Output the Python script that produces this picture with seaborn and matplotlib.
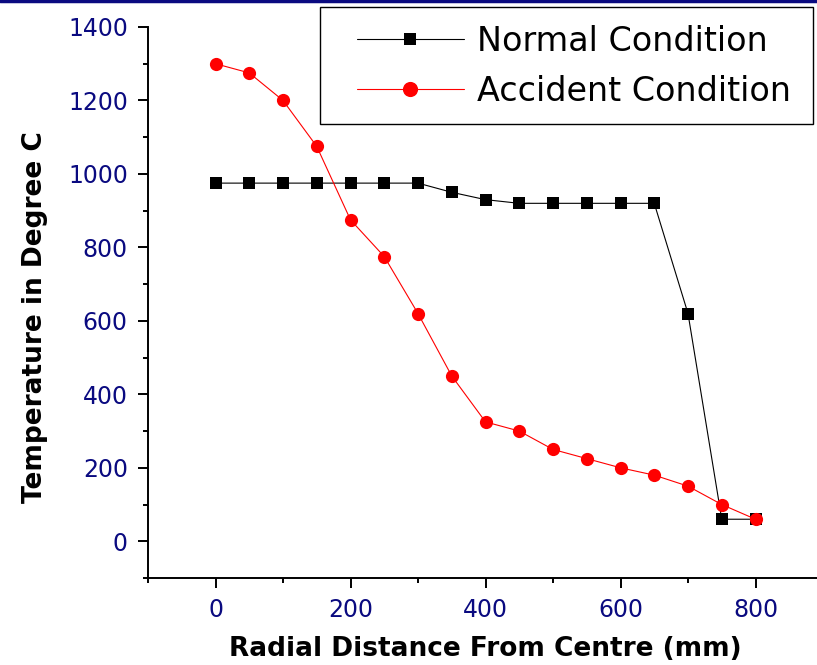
import matplotlib
matplotlib.use("Agg")
import matplotlib.pyplot as plt
from matplotlib.lines import Line2D
from matplotlib.patches import Rectangle
from matplotlib.ticker import MultipleLocator
import seaborn as sns
import pandas as pd

distance = [0, 50, 100, 150, 200, 250, 300, 350, 400, 450, 500, 550, 600, 650, 700, 750, 800]
normal = [975, 975, 975, 975, 975, 975, 975, 950, 930, 920, 920, 920, 920, 920, 620, 60, 60]
accident = [1300, 1275, 1200, 1075, 875, 775, 620, 450, 325, 300, 250, 225, 200, 180, 150, 100, 60]
series_names = ["Normal Condition", "Accident Condition"]

df = pd.concat([
    pd.DataFrame({"x": distance, "y": normal, "s": series_names[0]}),
    pd.DataFrame({"x": distance, "y": accident, "s": series_names[1]}),
])

sns.set_style("ticks")
plt.rcParams["font.family"] = ["DejaVu Sans"]

W, H = 817, 665
fig = plt.figure(figsize=(W/100, H/100), dpi=100)
ax = fig.add_axes([148/W, 1-578/H, (823-148)/W, (578-27)/H])

sns.lineplot(data=df, x="x", y="y", hue="s", style="s",
             palette={series_names[0]: "black", series_names[1]: "#ff0000"},
             markers={series_names[0]: "s", series_names[1]: "o"},
             dashes=False, linewidth=0.8, markeredgewidth=0, legend=False, ax=ax)
for ln, ms in zip(ax.lines, [8, 9.5]):
    ln.set_markersize(ms)

ax.set_xlim(-100, 900)
ax.set_ylim(-100, 1400)
ax.xaxis.set_minor_locator(MultipleLocator(100))
ax.yaxis.set_minor_locator(MultipleLocator(100))
ax.set_xticks([0, 200, 400, 600, 800])
ax.set_yticks([0, 200, 400, 600, 800, 1000, 1200, 1400])

for s in ["top", "right"]:
    ax.spines[s].set_visible(False)
for s in ["left", "bottom"]:
    ax.spines[s].set_linewidth(1.4)
    ax.spines[s].set_color("black")

ax.tick_params(which="major", direction="out", length=7.5, width=1.4, colors="black",
               labelsize=17, labelcolor="#0a0a80", pad=7)
ax.tick_params(which="minor", direction="out", length=3.5, width=1.4, colors="black")

ax.set_xlabel("Radial Distance From Centre (mm)", fontsize=19, fontweight="bold",
              color="black", labelpad=10)
ax.set_ylabel("Temperature in Degree C", fontsize=19, fontweight="bold", color="black")
ax.yaxis.set_label_coords((48 - 148) / (823 - 148), (578 - 317) / (578 - 27))

# legend frame drawn as a rectangle in figure coords, legend content without frame
ax.add_patch(Rectangle((320/W, 1-124/H), (813-320)/W, (124-7)/H,
                       transform=fig.transFigure, fill=True, facecolor="white",
                       edgecolor="black", linewidth=1.0, zorder=4, clip_on=False))
leg = ax.legend(ax.lines[:2], series_names, loc="upper left",
                bbox_to_anchor=(357/W, 1-25/H), bbox_transform=fig.transFigure,
                fontsize=24, frameon=False, handlelength=3.2, borderpad=0,
                labelspacing=0.5, handletextpad=0.4, borderaxespad=0,
                markerscale=1.15)
leg.set_zorder(6)
for t in leg.get_texts():
    t.set_color("black")

fig.add_artist(Line2D([0, 1], [0.998, 0.998], transform=fig.transFigure,
                      color="#0a0a80", linewidth=2.5))

fig.savefig("out.png", dpi=100)
